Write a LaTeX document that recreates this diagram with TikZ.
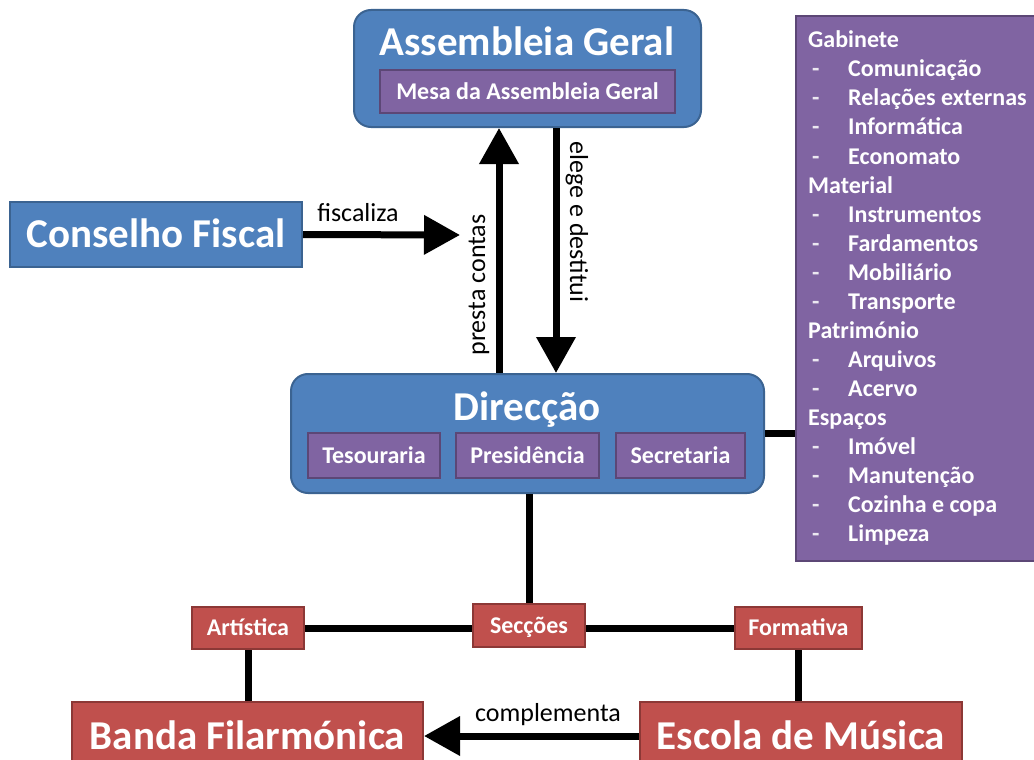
\documentclass[tikz,border=0pt]{standalone}
\usepackage{fontspec}
\setmainfont{Carlito}
\usetikzlibrary{arrows.meta}
\definecolor{cblue}{HTML}{4F81BD}
\definecolor{bblue}{HTML}{3B6391}
\definecolor{cpurple}{HTML}{8064A2}
\definecolor{bpurple}{HTML}{5C4776}
\definecolor{cred}{HTML}{C0504D}
\definecolor{bred}{HTML}{8C3836}
\tikzset{
  bigfont/.style={font=\fontsize{41}{41}\selectfont\bfseries},
  smallfont/.style={font=\fontsize{24}{24}\selectfont\bfseries},
  roundbox/.style={draw=bblue, fill=cblue, line width=2pt, rounded corners=17pt, inner sep=0pt},
  bigtitle/.style={bigfont, text=white, inner sep=0pt, anchor=base},
  bluebox/.style={draw=bblue, fill=cblue, line width=2pt, inner sep=0pt, text=white, bigfont, text height=26pt, text depth=0pt},
  subbox/.style={draw=bpurple, fill=cpurple, line width=2pt, inner sep=0pt, text=white, smallfont, text height=15.5pt, text depth=0pt},
  listbox/.style={draw=bpurple, fill=cpurple, line width=2pt, inner sep=0pt},
  listtxt/.style={smallfont, text=white, inner sep=0pt, anchor=base west},
  redsmall/.style={draw=bred, fill=cred, line width=2pt, inner sep=0pt, text=white, smallfont, text height=15.5pt, text depth=0pt},
  redbig/.style={draw=bred, fill=cred, line width=2pt, inner sep=0pt, text=white, bigfont, text height=26pt, text depth=0pt},
  lbl/.style={font=\fontsize{26}{26}\selectfont, text=black, inner sep=0pt},
  conn/.style={line width=7pt},
  arr/.style={line width=7pt, -{Triangle[length=36pt,width=38pt]}}
}
\begin{document}
\begin{tikzpicture}[x=1pt,y=-1pt]
\useasboundingbox (0,0) rectangle (1034,760);
\clip (0,0) rectangle (1034,760);
\fill[white] (0,0) rectangle (1034,760);

% Assembleia Geral
\node[roundbox, minimum width=347pt, minimum height=117pt] (ag) at (527.5,68.5) {};
\node[bigtitle] (agt) at (527,56) {Assembleia Geral};
\node[subbox, minimum width=295pt, minimum height=43pt] (mesa) at (527.5,91.5) {Mesa da Assembleia Geral};

% Conselho Fiscal
\node[bluebox, minimum width=292pt, minimum height=65pt] (cf) at (156,234.5) {Conselho Fiscal};

% Direccao
\node[roundbox, minimum width=473pt, minimum height=119pt] (dir) at (527.5,433.5) {};
\node[bigtitle] (dirt) at (527,420) {Direcção};
\node[subbox, minimum width=132pt, minimum height=45pt] (tes) at (374,455.5) {Tesouraria};
\node[subbox, minimum width=143pt, minimum height=45pt] (pres) at (527.5,455.5) {Presidência};
\node[subbox, minimum width=129pt, minimum height=45pt] (sec) at (680.5,455.5) {Secretaria};

% List box
\node[listbox, minimum width=262pt, minimum height=545pt, anchor=north west] (list) at (795,15) {};
\foreach \i/\t in {0/Gabinete,5/Material,10/Património,13/Espaços}
  \node[listtxt] (h\i) at (808,{48+29*\i}) {\t};
\foreach \i/\t in {1/Comunicação,2/Relações externas,3/Informática,4/Economato,6/Instrumentos,7/Fardamentos,8/Mobiliário,9/Transporte,11/Arquivos,12/Acervo,14/Imóvel,15/Manutenção,16/Cozinha e copa,17/Limpeza}{
  \node[listtxt, text=white!85!cpurple] (d\i) at (812,{48+29*\i}) {-};
  \node[listtxt] (t\i) at (848,{48+29*\i}) {\t};
}

% Red boxes
\node[redsmall, minimum width=112pt, minimum height=43pt] (secc) at (529,625.5) {Secções};
\node[redsmall, minimum width=112pt, minimum height=42pt] (art) at (248,628) {Artística};
\node[redsmall, minimum width=127pt, minimum height=42pt] (form) at (798.5,628) {Formativa};
\node[redbig, minimum width=351pt, minimum height=68pt] (banda) at (247.5,736) {Banda Filarmónica};
\node[redbig, minimum width=322pt, minimum height=68pt] (escola) at (801,736) {Escola de Música};

% Connectors
\coordinate (pcx) at (499,0);
\coordinate (edx) at (556,0);
\coordinate (fz) at (460,235);
\draw[arr] (dir.north -| pcx) -- (ag.south -| pcx);
\draw[arr] (ag.south -| edx) -- (dir.north -| edx);
\node[lbl, rotate=90] (lpc) at (479,285) {presta contas};
\node[lbl, rotate=-90] (led) at (577,222) {elege e destitui};
\draw[arr] (cf.east) -- (fz);
\node[lbl, anchor=base] (lfz) at (358,221) {fiscaliza};
\draw[conn] (dir.east) -- (dir.east -| list.west);
\draw[conn] (secc.north |- dir.south) -- (secc.north);
\draw[conn] (art.east) -- (art.east -| secc.west);
\draw[conn] (form.west -| secc.east) -- (form.west);
\draw[conn] (art.south) -- (art.south |- banda.north);
\draw[conn] (form.south) -- (form.south |- escola.north);
\draw[arr] (escola.west) -- (banda.east);
\node[lbl, anchor=base] (lcp) at (548,721) {complementa};
\end{tikzpicture}
\end{document}
